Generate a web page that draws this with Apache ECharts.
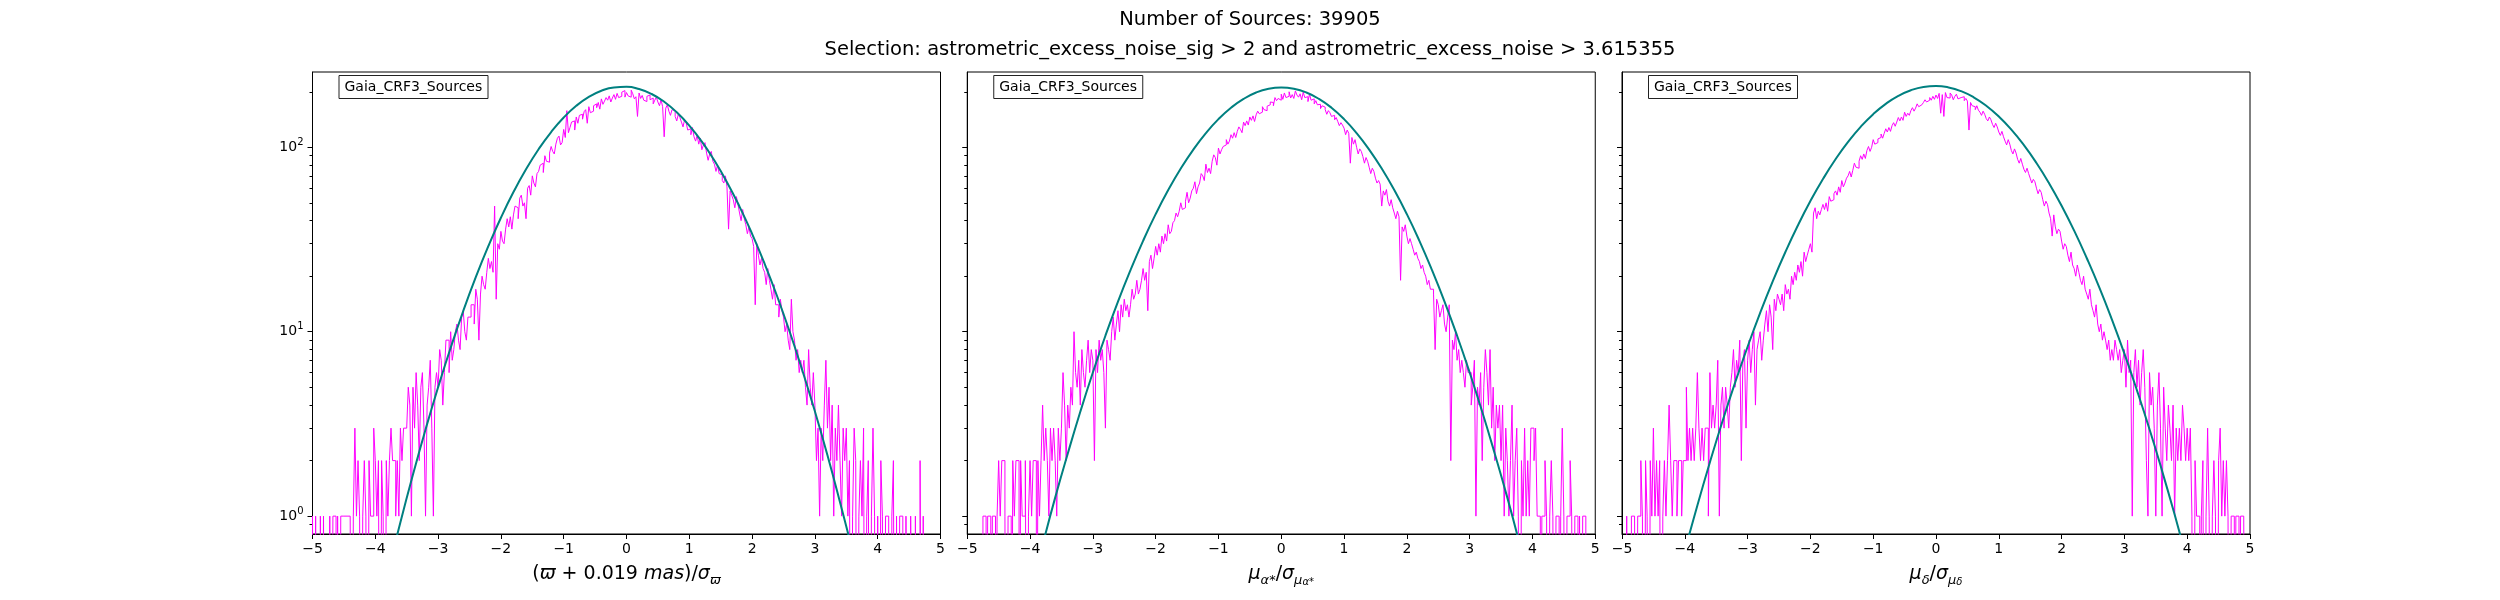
<!DOCTYPE html>
<html>
<head>
<meta charset="utf-8">
<script src="https://cdn.jsdelivr.net/npm/echarts@6/dist/echarts.min.js"></script>
<style>
html,body{margin:0;padding:0;background:#fff;}
#chart{width:2500px;height:600px;}
</style>
</head>
<body>
<div id="chart"></div>
<script>
// ---------------- data ----------------
const FIGURE_TITLE = 'Number of Sources: 39905';
const FIGURE_SUBTITLE = 'Selection: astrometric_excess_noise_sig > 2 and astrometric_excess_noise > 3.615355';
const PANEL_BOX_LABEL = 'Gaia_CRF3_Sources';

// histogram bins: start and width (400 bins from -5 to 5)
const HIST_START = -5;
const HIST_BIN_WIDTH = 0.025;

const parallaxCounts = [
  1,0,1,0,0,1,0,1,0,0,0,1,0,1,1,0,1,0,1,1,
  1,1,1,1,1,0,1,3,1,2,1,0,1,2,1,0,2,1,1,3,
  2,1,2,0,2,1,0,2,1,2,3,2,2,1,2,1,3,2,3,3,
  3,5,4,1,5,3,6,4,2,5,6,3,1,4,5,7,3,1,5,6,
  5,8,7,4,6,9,9,6,10,7,8,10,11,9,8,12,13,10,9,12,
  12,14,14,11,17,15,9,16,20,18,17,21,25,22,24,21,48,15,30,28,
  35,31,30,36,41,37,42,36,43,48,47,41,53,55,48,50,41,60,62,55,
  70,64,61,72,74,80,82,73,90,84,83,93,101,95,92,104,112,115,103,106,
  125,113,158,120,128,137,139,124,146,135,149,151,142,156,160,135,166,154,157,168,
  172,164,175,161,183,171,178,186,180,190,176,185,193,182,196,186,189,199,203,187,
  198,190,187,204,195,183,188,147,197,184,191,180,177,189,192,181,185,172,180,187,
  176,168,181,166,114,163,170,157,149,160,158,147,139,151,145,137,129,141,136,124,
  126,117,128,114,108,116,104,112,97,103,106,93,85,92,95,84,81,74,80,72,
  71,66,64,70,61,36,58,55,52,47,54,49,44,40,46,41,38,34,37,33,
  32,29,14,30,26,23,25,22,21,18,22,19,17,15,18,14,14,12,15,13,
  12,10,11,9,8,15,10,9,7,8,6,7,6,7,5,4,8,5,4,6,
  4,2,3,1,3,2,4,7,3,5,2,4,1,3,2,4,2,1,3,2,
  3,1,2,0,1,3,2,0,1,2,1,3,0,1,2,0,1,3,1,0,
  1,0,2,1,0,1,1,0,0,1,2,0,1,0,1,1,0,0,1,0,
  0,1,0,0,1,0,0,2,0,1,0,0,0,0,0,0,0,0,0,0
];

const pmraCounts = [
  0,0,0,0,0,0,0,0,0,0,1,1,0,1,1,0,1,1,0,1,
  2,1,2,2,1,0,1,1,0,2,1,2,2,0,2,1,1,2,0,1,
  2,1,2,2,0,2,1,2,4,2,3,2,1,3,2,3,2,1,3,2,
  3,6,4,2,4,3,5,4,10,6,5,7,4,8,6,5,7,9,6,8,
  7,2,8,6,9,7,8,6,3,9,8,7,10,12,9,11,13,10,14,12,
  15,13,14,12,14,17,15,16,19,16,17,19,22,19,21,13,24,26,22,25,
  29,26,30,27,33,30,34,31,38,34,35,39,40,44,42,45,50,46,47,51,
  57,50,53,58,60,65,56,61,64,72,70,66,81,73,77,72,84,91,88,80,
  99,92,97,101,103,110,104,108,117,112,120,113,122,129,125,120,137,131,139,132,
  146,140,148,138,150,157,152,155,166,160,158,167,170,176,175,168,186,179,184,180,
  194,182,197,186,189,200,185,193,184,202,192,187,195,181,199,186,188,177,194,180,
  183,172,179,170,171,162,168,165,160,151,158,154,147,149,141,145,138,131,136,132,
  127,117,124,119,82,113,104,110,100,92,98,95,89,82,88,84,78,72,77,74,
  68,64,66,63,48,58,55,59,51,48,52,47,44,41,45,42,19,37,35,38,
  33,30,32,30,28,26,27,25,24,22,23,21,20,18,19,17,17,16,8,15,
  14,12,13,14,11,10,12,14,2,9,8,10,7,8,6,7,6,5,7,6,
  6,4,5,7,1,5,4,6,2,5,8,6,4,8,3,5,2,4,3,4,
  2,4,1,3,2,1,2,4,1,2,3,1,0,2,1,3,1,2,1,3,
  3,2,3,1,1,0,1,1,2,1,0,1,2,1,0,1,1,0,1,3,
  1,0,1,1,2,1,0,1,1,0,1,0,1,1,0,0,0,0,0,0
];

const pmdecCounts = [
  0,0,0,1,0,0,1,1,1,0,1,1,2,1,0,2,1,0,2,1,
  3,1,2,1,2,0,1,2,1,2,4,2,1,2,2,1,2,2,1,2,
  2,5,2,3,2,3,2,3,6,3,2,3,2,3,3,1,6,3,4,3,
  4,7,1,4,5,3,5,4,3,5,6,8,5,7,6,9,2,7,8,3,
  7,9,6,8,10,4,8,9,10,7,9,11,13,10,14,12,8,15,13,16,
  15,14,16,13,18,16,17,15,20,18,21,19,23,21,24,20,27,24,26,28,
  30,27,44,47,41,45,43,46,49,46,50,45,54,51,52,56,58,55,61,57,
  66,61,64,68,70,74,69,75,82,78,77,84,90,86,92,87,96,101,95,100,
  110,104,106,111,113,118,112,119,126,121,128,122,131,136,130,137,145,139,146,140,
  155,147,153,149,158,164,157,163,172,166,170,167,175,181,176,180,186,180,189,182,
  192,184,196,153,193,147,198,186,185,197,192,181,189,194,183,186,182,188,179,184,
  178,124,175,168,166,160,168,159,155,149,157,151,143,139,146,141,133,128,135,129,
  121,116,122,114,108,103,110,104,96,92,98,93,86,82,87,81,76,73,77,72,
  68,64,67,65,60,56,59,57,52,48,51,49,44,41,33,43,37,34,36,35,
  31,28,30,29,26,24,27,23,22,20,23,21,19,18,20,17,16,15,17,14,
  13,12,14,11,10,11,9,10,9,8,9,7,8,7,9,8,7,8,6,7,
  8,5,9,6,7,1,6,8,5,7,4,6,8,5,2,1,6,4,5,3,
  1,4,6,3,1,5,3,2,4,3,2,4,1,3,2,3,2,4,3,2,
  3,2,3,1,0,2,1,1,0,1,2,0,1,3,1,0,1,2,1,0,
  2,3,1,2,1,2,1,0,1,1,0,1,1,0,1,1,1,0,0,0
];

// fitted Gaussian curves, read at x = -4.0 ... 4.0 (step 0.2)
const curveX = [
  -4.0,-3.8,-3.6,-3.4,-3.2,-3.0,-2.8,-2.6,-2.4,-2.2,-2.0,-1.8,-1.6,-1.4,-1.2,-1.0,-0.8,-0.6,-0.4,-0.2,
  0.0,0.2,0.4,0.6,0.8,1.0,1.2,1.4,1.6,1.8,2.0,2.2,2.4,2.6,2.8,3.0,3.2,3.4,3.6,3.8,4.0
];
const parallaxCurve = [
  0.253,0.493,0.927,1.68,2.95,5.00,8.18,12.94,19.75,29.1,41.5,57.2,76.0,97.6,121.0,145.0,167.8,187.5,202.5,211.1,
  212.7,206.9,194.5,176.6,154.8,131.1,107.3,84.7,64.7,47.7,33.96,23.36,15.52,9.96,6.17,3.70,2.14,1.19,0.644,0.336,0.169
];
const pmraCurve = [
  0.377,0.699,1.26,2.18,3.68,6.01,9.51,14.57,21.6,31.1,43.4,58.6,76.7,97.2,119.4,142.1,163.8,183.0,198.1,207.7,
  211.0,207.7,198.1,183.0,163.8,142.1,119.4,97.2,76.7,58.6,43.4,31.1,21.6,14.57,9.51,6.01,3.68,2.18,1.26,0.699,0.377
];
const pmdecCurve = [
  0.647,1.143,1.96,3.27,5.28,8.29,12.66,18.75,26.96,37.67,51.1,67.3,86.1,107.0,129.1,151.2,172.0,190.1,203.9,212.5,
  215.0,211.2,201.5,186.7,168.0,146.8,124.6,102.7,82.2,63.9,48.2,35.3,25.1,17.4,11.66,7.60,4.81,2.96,1.76,1.02,0.576
];

// axis ticks
const xRange = [-5, 5];
const xTickStep = 1;
const yRange = [0.8, 256];
const yMajorTicks = [1, 10, 100];
const yMinorTicks = [0.9, 2, 3, 4, 5, 6, 7, 8, 9, 20, 30, 40, 50, 60, 70, 80, 90, 200];

// x-axis labels (rich text markup)
const xAxisNames = [
  '({i|ϖ} + 0.019 {i|mas})/{i|σ}{sub|ϖ}',
  '{i|μ}{sub|α*}/{i|σ}{sub|μ}{ssub|α*}',
  '{i|μ}{sub|δ}/{i|σ}{sub|μ}{ssub|δ}'
];

// ---------------- layout / style ----------------
const FONT = 'DejaVu Sans';
const GRID_LEFTS = [312.5, 967.25, 1622];
const GRID_TOP = 72, GRID_W = 628, GRID_H = 462;
const ZERO_FLOOR = 0.01; // empty bins drop below the axis (like matplotlib's log clipping)
const HIST_COLOR = '#ff00ff';
const CURVE_COLOR = '#008080';

const panels = [
  { counts: parallaxCounts, curve: parallaxCurve, name: xAxisNames[0] },
  { counts: pmraCounts, curve: pmraCurve, name: xAxisNames[1] },
  { counts: pmdecCounts, curve: pmdecCurve, name: xAxisNames[2] }
];

function stepData(counts) {
  const pts = [[HIST_START, ZERO_FLOOR]];
  counts.forEach((c, i) => {
    pts.push([HIST_START + i * HIST_BIN_WIDTH, c > 0 ? c : ZERO_FLOOR]);
  });
  pts.push([HIST_START + counts.length * HIST_BIN_WIDTH, ZERO_FLOOR]);
  return pts;
}
const fmtX = v => (v < 0 ? '\u2212' + Math.abs(v) : String(v));
const fmtY = v => '10{sup|' + Math.round(Math.log10(v)) + '}';

const axisLineStyle = { color: '#000', width: 1 };

const title = [
  { text: FIGURE_TITLE, left: 'center', top: 9, padding: 0,
    textStyle: { fontFamily: FONT, fontSize: 19.5, fontWeight: 'normal', color: '#000', lineHeight: 22 } },
  { text: FIGURE_SUBTITLE, left: 'center', top: 39, padding: 0,
    textStyle: { fontFamily: FONT, fontSize: 19.5, fontWeight: 'normal', color: '#000', lineHeight: 22 } }
];
GRID_LEFTS.forEach(l => {
  title.push({
    text: PANEL_BOX_LABEL, left: l + 26, top: 75, padding: [4, 6, 4, 6],
    borderColor: '#222', borderWidth: 1, backgroundColor: '#fff',
    textStyle: { fontFamily: FONT, fontSize: 14, fontWeight: 'normal', color: '#000', lineHeight: 16 }
  });
});

const grid = GRID_LEFTS.map(l => ({
  left: l, top: GRID_TOP, width: GRID_W, height: GRID_H,
  show: true, borderColor: '#000', borderWidth: 1, backgroundColor: 'transparent'
}));

const xAxis = panels.map((p, i) => ({
  gridIndex: i, type: 'value', min: xRange[0], max: xRange[1], interval: xTickStep,
  name: p.name, nameLocation: 'middle', nameGap: 27,
  nameTextStyle: {
    fontFamily: FONT, fontSize: 19, color: '#000', lineHeight: 26,
    rich: {
      i: { fontFamily: FONT, fontSize: 19, fontStyle: 'italic', color: '#000' },
      sub: { fontFamily: FONT, fontSize: 13, fontStyle: 'italic', color: '#000', verticalAlign: 'bottom', lineHeight: 13 },
      ssub: { fontFamily: FONT, fontSize: 10, fontStyle: 'italic', color: '#000', verticalAlign: 'bottom', lineHeight: 8 }
    }
  },
  axisLine: { show: true, onZero: false, lineStyle: axisLineStyle },
  axisTick: { show: true, inside: false, length: 5, lineStyle: axisLineStyle },
  axisLabel: { show: true, fontFamily: FONT, fontSize: 14, color: '#000', margin: 8, formatter: fmtX },
  splitLine: { show: false }
}));

const yAxis = [];
panels.forEach((p, i) => {
  yAxis.push({
    gridIndex: i, type: 'log', logBase: 10, min: yRange[0], max: yRange[1], position: 'left',
    axisLine: { show: true, onZero: false, lineStyle: axisLineStyle },
    axisTick: { show: true, inside: false, length: 5, customValues: yMajorTicks, lineStyle: axisLineStyle },
    axisLabel: {
      show: i === 0, customValues: yMajorTicks, formatter: fmtY, margin: 9,
      fontFamily: FONT, fontSize: 14, color: '#000', lineHeight: 20,
      rich: { sup: { fontFamily: FONT, fontSize: 10, color: '#000', verticalAlign: 'top', lineHeight: 10 } }
    },
    splitLine: { show: false }, minorTick: { show: false }
  });
  yAxis.push({
    gridIndex: i, type: 'log', logBase: 10, min: yRange[0], max: yRange[1], position: 'left', offset: 0,
    axisLine: { show: false, onZero: false },
    axisTick: { show: true, inside: false, length: 3, customValues: yMinorTicks, lineStyle: axisLineStyle },
    axisLabel: { show: false },
    splitLine: { show: false }
  });
});

const series = [];
panels.forEach((p, i) => {
  series.push({
    type: 'line', xAxisIndex: i, yAxisIndex: 2 * i, data: stepData(p.counts),
    step: 'end', symbol: 'none', showSymbol: false, clip: true, z: 2,
    lineStyle: { color: HIST_COLOR, width: 1 }, silent: true
  });
  series.push({
    type: 'line', xAxisIndex: i, yAxisIndex: 2 * i,
    data: curveX.map((x, k) => [x, p.curve[k]]),
    smooth: 0.5, symbol: 'none', showSymbol: false, clip: true, z: 3,
    lineStyle: { color: CURVE_COLOR, width: 2 }, silent: true
  });
});

const chart = echarts.init(document.getElementById('chart'), null, { renderer: 'canvas' });
chart.setOption({
  animation: false,
  backgroundColor: '#ffffff',
  textStyle: { fontFamily: FONT },
  title, grid, xAxis, yAxis, series
});
</script>
</body>
</html>
